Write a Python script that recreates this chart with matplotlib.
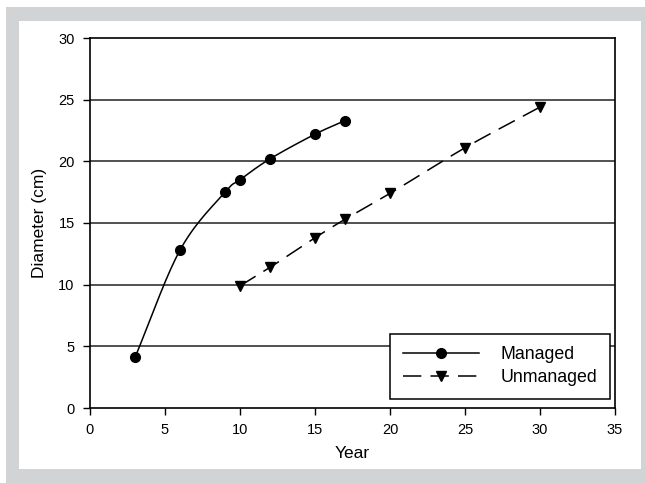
import numpy as np
import matplotlib.pyplot as plt
from matplotlib.patches import Rectangle

plt.rcParams['font.family'] = ['Liberation Sans', 'DejaVu Sans']

# data
managed_year = [3, 6, 9, 10, 12, 15, 17]
managed_diam = [4.1, 12.8, 17.5, 18.5, 20.2, 22.2, 23.3]
unmanaged_year = [10, 12, 15, 17, 20, 25, 30]
unmanaged_diam = [9.9, 11.4, 13.8, 15.3, 17.4, 21.1, 24.4]


def smooth(x, y, n=30):
    # Catmull-Rom style smoothing of the line between the points (Excel smoothed line look)
    x = np.asarray(x, float)
    y = np.asarray(y, float)
    px = np.concatenate([[2 * x[0] - x[1]], x, [2 * x[-1] - x[-2]]])
    py = np.concatenate([[2 * y[0] - y[1]], y, [2 * y[-1] - y[-2]]])
    xs, ys = [], []
    t = np.linspace(0, 1, n)
    for i in range(1, len(px) - 2):
        for p, out in ((px, xs), (py, ys)):
            p0, p1, p2, p3 = p[i - 1], p[i], p[i + 1], p[i + 2]
            out.extend(0.5 * (2 * p1 + (-p0 + p2) * t
                              + (2 * p0 - 5 * p1 + 4 * p2 - p3) * t ** 2
                              + (-p0 + 3 * p1 - 3 * p2 + p3) * t ** 3))
    return xs, ys


fig = plt.figure(figsize=(6.45, 4.83), dpi=100, facecolor='white')
fig.patches.append(Rectangle((6 / 645, 0), 639 / 645, 476 / 483, transform=fig.transFigure,
                             facecolor='#d2d3d5', edgecolor='none', zorder=-10))
fig.patches.append(Rectangle((19 / 645, 14 / 483), 622 / 645, 448 / 483, transform=fig.transFigure,
                             facecolor='white', edgecolor='none', zorder=-9))

ax = fig.add_axes([90 / 645, 75 / 483, 525 / 645, 370 / 483])

for yv in [5, 10, 15, 20, 25]:
    ax.axhline(yv, color='#222222', lw=1.1, zorder=1)

sx, sy = smooth(managed_year, managed_diam)
ax.plot(sx, sy, color='black', lw=1.1, zorder=2)
ax.plot(managed_year, managed_diam, 'o', color='black', ms=7, zorder=3)
ax.plot([], [], '-o', color='black', lw=1.1, ms=7, label='Managed')

sx, sy = smooth(unmanaged_year, unmanaged_diam)
ax.plot(sx, sy, color='black', lw=1.1, dashes=(12, 6), zorder=2)
ax.plot(unmanaged_year, unmanaged_diam, 'v', color='black', ms=7, zorder=3)
ax.plot([], [], '-v', color='black', lw=1.1, ms=7, dashes=(12, 6), label='Unmanaged')

ax.set_xlim(0, 35)
ax.set_ylim(0, 30)
ax.set_xticks(range(0, 36, 5))
ax.set_yticks(range(0, 31, 5))
ax.tick_params(direction='out', length=5, width=1, labelsize=10.5, colors='black', pad=6)
for s in ax.spines.values():
    s.set_linewidth(1.2)
    s.set_color('black')

ax.set_xlabel('Year', fontsize=12.5, labelpad=6)
ax.set_ylabel('Diameter (cm)', fontsize=12.5, labelpad=8)

leg = ax.legend(loc='lower right', bbox_to_anchor=(0.99, 0.025), borderaxespad=0, fontsize=12.8,
                handlelength=4.3, handletextpad=1.2, borderpad=0.7, labelspacing=0.35,
                fancybox=False, framealpha=1, edgecolor='black')
leg.get_frame().set_linewidth(1.1)

fig.savefig('out.png', dpi=100, facecolor=fig.get_facecolor())
